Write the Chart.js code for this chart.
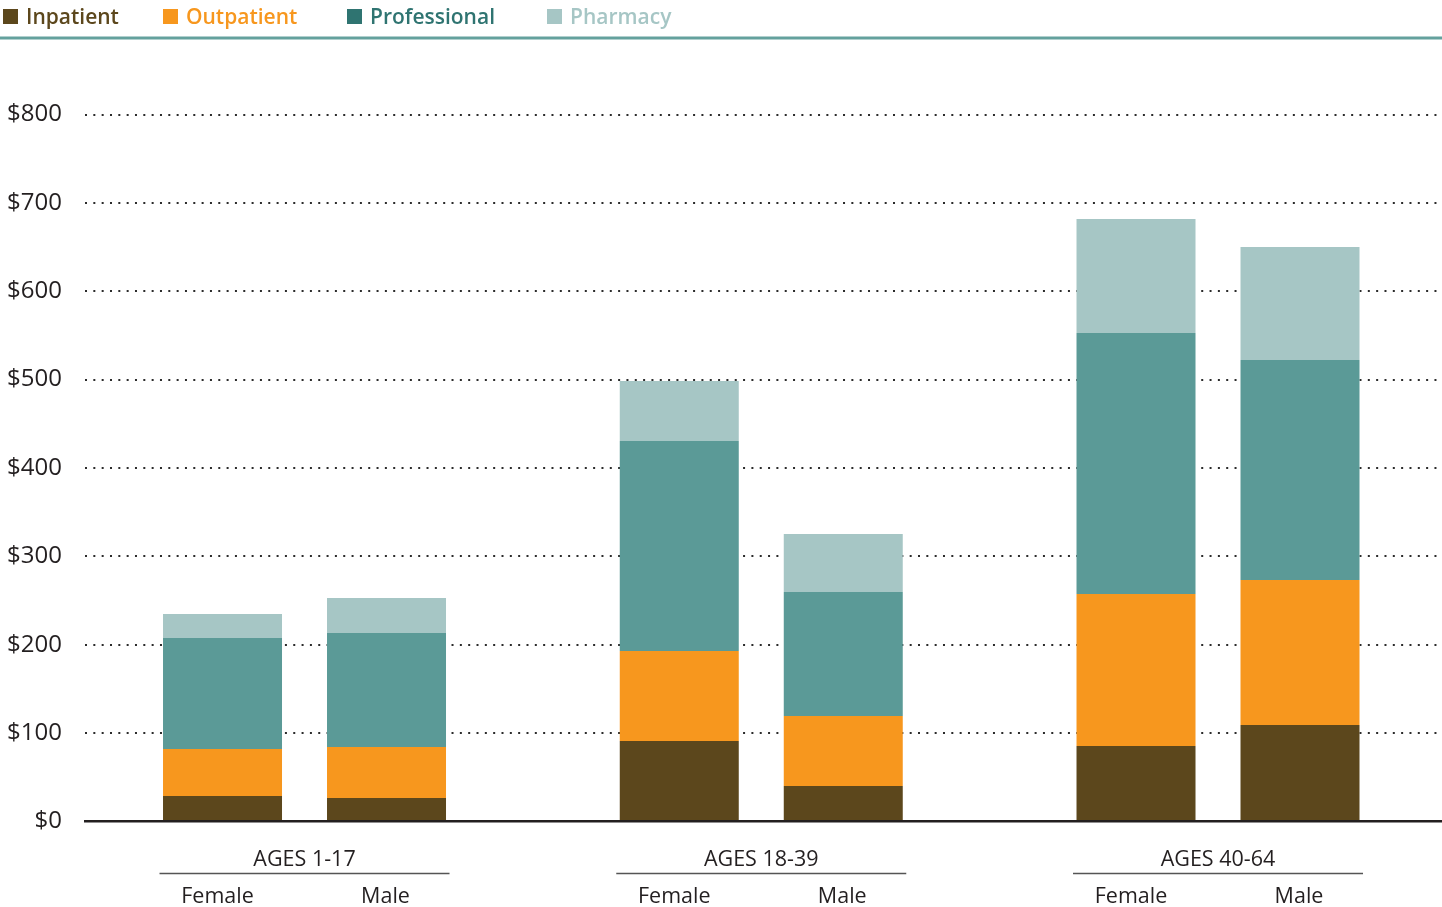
<!DOCTYPE html>
<html>
<head>
<meta charset="utf-8">
<script src="https://cdn.jsdelivr.net/npm/chart.js@4.4.1/dist/chart.umd.min.js"></script>
<style>
  html, body { margin: 0; padding: 0; background: #ffffff; }
  #wrap { position: relative; width: 1442px; height: 907px; }
</style>
</head>
<body>
<div id="wrap"><canvas id="c"></canvas></div>
<script>
// ---- Data ----
const ageGroups = ['AGES 1-17', 'AGES 18-39', 'AGES 40-64'];
const sexes = ['Female', 'Male'];
const seriesNames = ['Inpatient', 'Outpatient', 'Professional', 'Pharmacy'];
const yTicks = [0, 100, 200, 300, 400, 500, 600, 700, 800];

const inpatientFemale    = [28.9, 91.1, 85.4];
const inpatientMale      = [26.6, 40.2, 109.2];
const outpatientFemale   = [53.1, 101.8, 172.0];
const outpatientMale     = [57.7, 79.2, 164.1];
const professionalFemale = [125.6, 237.6, 295.4];
const professionalMale   = [129.0, 140.3, 248.9];
const pharmacyFemale     = [27.2, 67.9, 129.0];
const pharmacyMale       = [39.6, 65.6, 127.8];

// ---- Styles ----
const barColors    = ['#5c471c', '#f7971e', '#5b9a97', '#a6c6c5'];
const legendColors = ['#5c471c', '#f7971e', '#2f7471', '#a6c6c5'];
const FONT = "'Open Sans', 'Noto Sans', sans-serif";
const TEXT = '#231f20';

const seriesData = [
  [inpatientFemale, inpatientMale],
  [outpatientFemale, outpatientMale],
  [professionalFemale, professionalMale],
  [pharmacyFemale, pharmacyMale]
];

const datasets = [];
seriesNames.forEach((name, s) => {
  sexes.forEach((sex, k) => {
    datasets.push({
      label: name + ' ' + sex,
      stack: sex,
      data: seriesData[s][k].map((v, i) => ({ x: i, y: v })),
      backgroundColor: barColors[s],
      borderWidth: 0
    });
  });
});

// ---- Custom drawing plugin: legend, header rule, x-axis group labels ----
const decorPlugin = {
  id: 'decor',
  afterDraw(chart) {
    const ctx = chart.ctx;
    ctx.save();
    // Legend
    const legendX = [3, 163, 347, 547];
    ctx.font = '600 21px ' + FONT;
    ctx.textBaseline = 'alphabetic';
    ctx.textAlign = 'left';
    seriesNames.forEach((name, s) => {
      ctx.fillStyle = legendColors[s];
      ctx.fillRect(legendX[s], 9, 15, 15);
      ctx.fillText(name, legendX[s] + 23, 24);
    });
    // Header rule
    ctx.strokeStyle = '#64a19d';
    ctx.lineWidth = 3;
    ctx.beginPath();
    ctx.moveTo(0, 38);
    ctx.lineTo(chart.width, 38);
    ctx.stroke();

    // X-axis labels
    const xs = chart.scales.x;
    ctx.textAlign = 'center';
    ctx.font = '500 21.5px ' + FONT;
    const femaleMeta = chart.getDatasetMeta(0);
    const maleMeta = chart.getDatasetMeta(1);
    ageGroups.forEach((g, i) => {
      const cx = xs.getPixelForValue(i);
      ctx.fillStyle = TEXT;
      ctx.fillText(g, cx, 866);
      ctx.strokeStyle = '#555555';
      ctx.lineWidth = 1.5;
      ctx.beginPath();
      ctx.moveTo(cx - 145, 873.5);
      ctx.lineTo(cx + 145, 873.5);
      ctx.stroke();
      ctx.fillText(sexes[0], femaleMeta.data[i].x - 5, 903);
      ctx.fillText(sexes[1], maleMeta.data[i].x - 1, 903);
    });
    ctx.restore();
  }
};

new Chart(document.getElementById('c'), {
  type: 'bar',
  data: { datasets },
  plugins: [decorPlugin],
  options: {
    responsive: true,
    maintainAspectRatio: false,
    animation: false,
    devicePixelRatio: 1,
    layout: { padding: { top: 114.5, bottom: 85.5, left: 0, right: 0 } },
    categoryPercentage: 0.7181,
    barPercentage: 0.7256,
    plugins: {
      legend: { display: false },
      tooltip: { enabled: false }
    },
    scales: {
      x: {
        type: 'linear',
        offset: false,
        min: -0.4806,
        max: 2.4904,
        afterBuildTicks: (scale) => {
          scale.ticks = ageGroups.map((_, i) => ({ value: i }));
        },
        afterFit: (scale) => { scale.height = 0; },
        ticks: { display: false },
        grid: { display: false, drawTicks: false, offset: false },
        border: { display: true, color: TEXT, width: 2.5, z: 1 }
      },
      y: {
        stacked: true,
        min: 0,
        max: 800,
        afterBuildTicks: (scale) => {
          scale.ticks = yTicks.map(v => ({ value: v }));
        },
        afterFit: (scale) => { scale.width = 85; },
        ticks: {
          padding: 23,
          color: TEXT,
          font: { family: FONT, size: 24, weight: '500' },
          callback: (v) => '$' + v
        },
        grid: {
          drawTicks: false,
          lineWidth: 2,
          color: (c) => (c.tick && c.tick.value === 0) ? 'rgba(0,0,0,0)' : '#2b2b2b',
          borderDash: [2, 6.33]
        },
        border: { display: false, dash: [2, 6.33] }
      }
    }
  }
});
</script>
</body>
</html>
